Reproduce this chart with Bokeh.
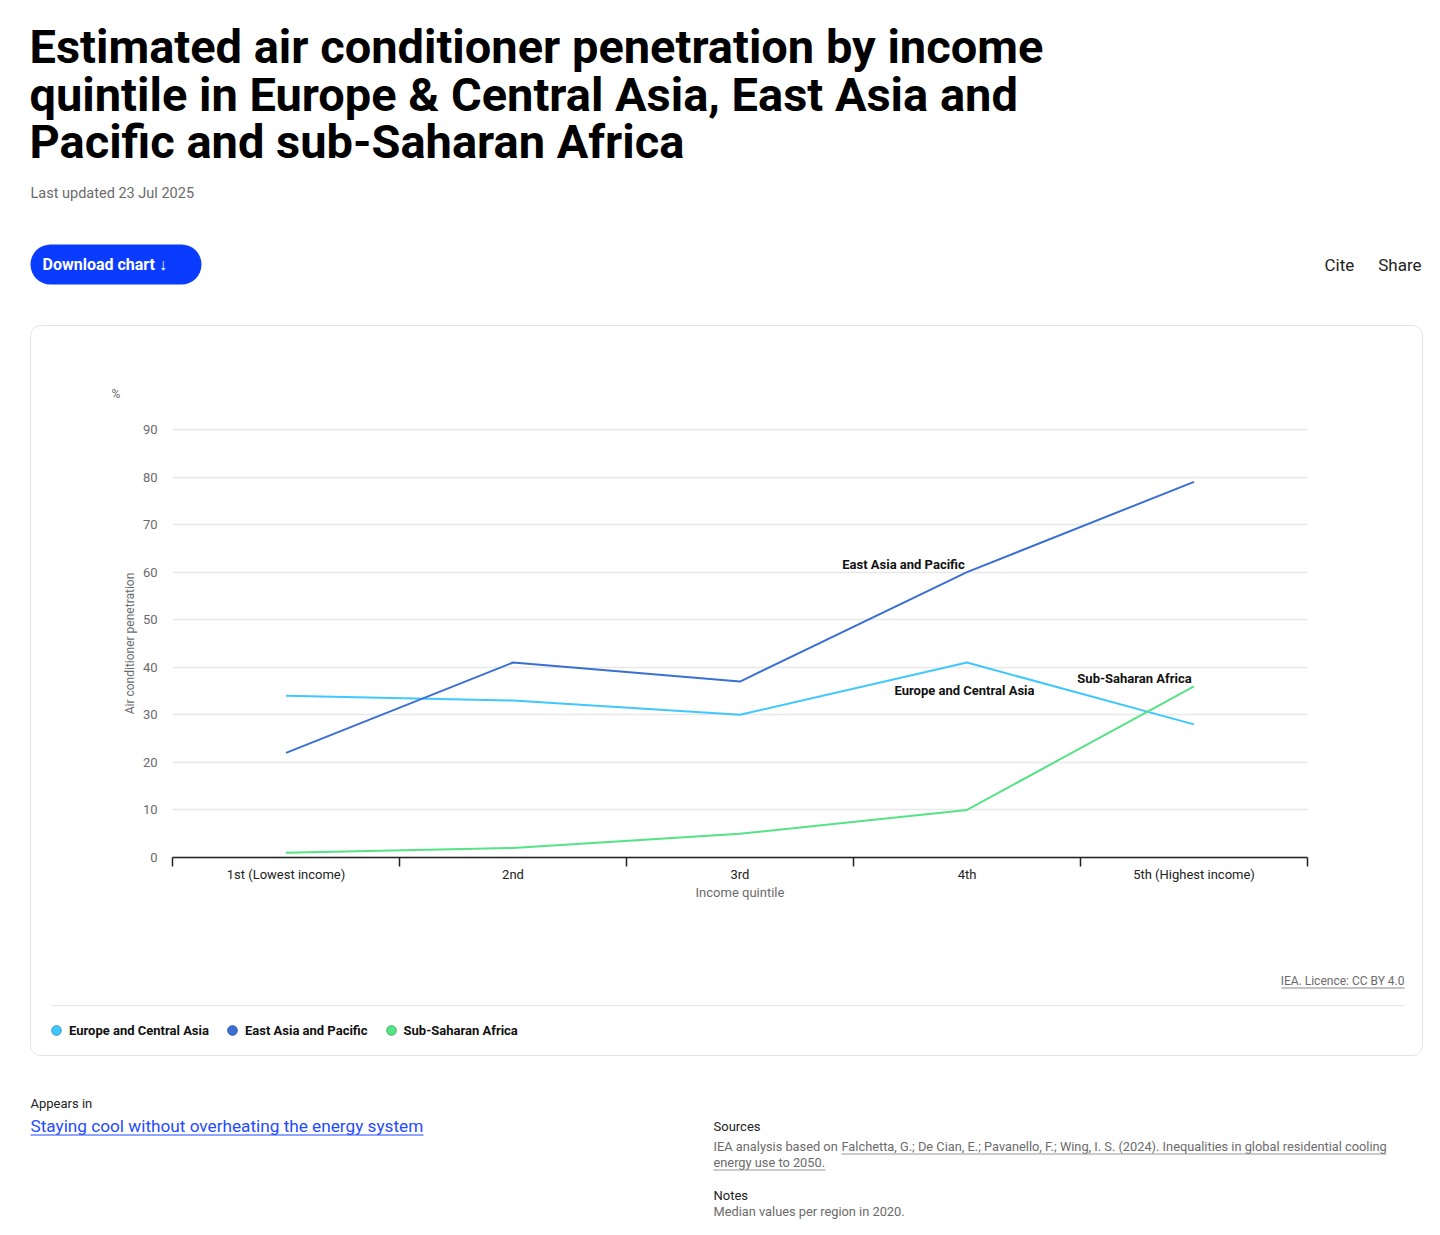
import numpy as np
from bokeh.plotting import figure
from bokeh.models import Range1d, Label, BoxAnnotation, FixedTicker, Legend, LegendItem
from bokeh.embed import file_html
from bokeh.resources import INLINE

# ---------------- data ----------------
quintiles = ["1st (Lowest income)", "2nd", "3rd", "4th", "5th (Highest income)"]
europe_central_asia = [34, 33, 30, 41, 28]
east_asia_pacific = [22, 41, 37, 60, 79]
sub_saharan_africa = [1, 2, 5, 10, 36]
series_names = ["Europe and Central Asia", "East Asia and Pacific", "Sub-Saharan Africa"]
series_values = [europe_central_asia, east_asia_pacific, sub_saharan_africa]
series_colors = ["#3fc8ff", "#3a6fd3", "#55e385"]
legend_edge = ["#2a9cc8", "#2d57a8", "#3fb868"]
y_ticks = [0, 10, 20, 30, 40, 50, 60, 70, 80, 90]

title_lines = ["Estimated air conditioner penetration by income",
               "quintile in Europe & Central Asia, East Asia and",
               "Pacific and sub-Saharan Africa"]

FONT = "Roboto"

# ---------------- layout constants (canvas pixels) ----------------
W, H = 1424, 1219
PLOT_L, PLOT_R, PLOT_T, PLOT_B = 172, 1307, 429, 857
Y_MAX = 90
n = len(quintiles)
sx = (PLOT_R - PLOT_L) / n
sy = (PLOT_B - PLOT_T) / Y_MAX

x_pos = [i + 0.5 for i in range(n)]
bounds = [float(i) for i in range(n + 1)]

# frame covers the whole canvas; data ranges chosen so that the plot box sits at PLOT_*
xr = Range1d(-PLOT_L / sx, (W - PLOT_L) / sx)
yr = Range1d(-(H - PLOT_B) / sy, PLOT_B / sy)

p = figure(frame_width=W, frame_height=H, x_range=xr, y_range=yr,
           min_border=0, output_backend="svg", toolbar_location=None)
p.outline_line_color = None
p.background_fill_color = "white"
p.border_fill_color = "white"

# pixel coordinate system for page furniture
p.extra_x_ranges = {"px": Range1d(0, W)}
p.extra_y_ranges = {"px": Range1d(H, 0)}

# ---------------- axes ----------------
xa = p.xaxis[0]
xa.fixed_location = 0
xa.bounds = (0, n)
xa.ticker = FixedTicker(ticks=x_pos, minor_ticks=bounds)
xa.major_label_overrides = {x: q for x, q in zip(x_pos, quintiles)}
xa.major_tick_out = 0
xa.major_tick_in = 0
xa.minor_tick_out = 9
xa.minor_tick_in = 0
xa.minor_tick_line_color = "#222222"
xa.minor_tick_line_width = 1.5
xa.axis_line_color = "#222222"
xa.axis_line_width = 1.5
xa.major_label_standoff = 0
xa.major_label_text_font = FONT
xa.major_label_text_font_size = "13px"
xa.major_label_text_color = "#222222"
xa.axis_label = "Income quintile"
xa.axis_label_text_font = FONT
xa.axis_label_text_font_size = "13px"
xa.axis_label_text_font_style = "normal"
xa.axis_label_text_color = "#6b6b6b"
xa.axis_label_standoff = 0

ya = p.yaxis[0]
ya.fixed_location = 0
ya.bounds = (0, Y_MAX)
ya.ticker = FixedTicker(ticks=y_ticks)
ya.axis_line_color = None
ya.major_tick_line_color = None
ya.major_tick_out = 0
ya.major_tick_in = 0
ya.minor_tick_line_color = None
ya.major_label_standoff = 15
ya.major_label_text_font = FONT
ya.major_label_text_font_size = "13px"
ya.major_label_text_color = "#6b6b6b"
ya.axis_label = "Air conditioner penetration"
ya.axis_label_text_font = FONT
ya.axis_label_text_font_size = "12px"
ya.axis_label_text_font_style = "normal"
ya.axis_label_text_color = "#6b6b6b"
ya.axis_label_standoff = 3

p.xgrid.visible = False
p.ygrid.ticker = FixedTicker(ticks=y_ticks)
p.ygrid.cross_bounds = (0, n)
p.ygrid.grid_line_color = "#e8e8e8"
p.ygrid.grid_line_width = 1.5

# ---------------- series ----------------
for vals, c in zip(series_values, series_colors):
    p.line(x_pos, vals, line_color=c, line_width=2)

# legend proxies
items = []
for name, c, e in zip(series_names, series_colors, legend_edge):
    r = p.scatter(x=[np.nan], y=[np.nan], marker="circle", size=9,
                  fill_color=c, line_color=e, line_width=1)
    items.append(LegendItem(label=name, renderers=[r]))
legend = Legend(items=items, orientation="horizontal", location=(44, H - 1042),
                glyph_width=24, glyph_height=24, label_standoff=1, spacing=11,
                padding=0, margin=0, border_line_color=None,
                background_fill_alpha=0,
                label_text_font=FONT, label_text_font_size="13px",
                label_text_font_style="bold", label_text_color="#111111")
p.add_layout(legend, "center")


def lab(x, y, text, size, color="#222222", bold=False, align="left",
        baseline="middle", font=FONT):
    p.add_layout(Label(x=x, y=y, text=text, x_range_name="px", y_range_name="px",
                       text_font=font, text_font_size=f"{size}px",
                       text_font_style="bold" if bold else "normal",
                       text_color=color, text_align=align, text_baseline=baseline))


def box(l, r, t, b, fill=None, line=None, radius=0, lw=1):
    p.add_layout(BoxAnnotation(left=l, right=r, top=t, bottom=b,
                               x_range_name="px", y_range_name="px",
                               fill_color=fill if fill else "white",
                               fill_alpha=1 if fill else 0,
                               line_color=line if line else "white", line_width=lw,
                               line_alpha=1 if line else 0,
                               border_radius=radius))


# ---------------- header ----------------
for i, t in enumerate(title_lines):
    lab(29, 46 + 47.5 * i, t, 47, "#000000", bold=True)
lab(30, 193, "Last updated 23 Jul 2025", 14.5, "#6b6b6b")
box(30, 201, 244, 284, fill="#0a3cff", radius=20)
lab(42, 264, "Download chart \u2193", 16, "#ffffff", bold=True)
lab(1324, 264, "Cite", 17, "#222222")
lab(1421, 264, "Share", 17, "#222222", align="right")

# ---------------- card ----------------
box(30, 1422, 325, 1055, line="#e4e4e4", radius=10)
lab(111, 393, "%", 12, "#6b6b6b")

# in-chart series labels
lab(903, 564, "East Asia and Pacific", 13, "#111111", bold=True, align="center")
lab(964, 690, "Europe and Central Asia", 13, "#111111", bold=True, align="center")
lab(1134, 678, "Sub-Saharan Africa", 13, "#111111", bold=True, align="center")

lab(1404, 980, "IEA. Licence: CC BY 4.0", 12, "#6b6b6b", align="right")
box(1281, 1404, 987, 988, fill="#8a8a8a")
box(51, 1404, 1004.5, 1005.5, fill="#e6e6e6")

# ---------------- footer ----------------
lab(30, 1103, "Appears in", 13, "#222222")
lab(30, 1125, "Staying cool without overheating the energy system", 17.2, "#1f4cff")
box(30, 423, 1134, 1135, fill="#1f4cff")

lab(713, 1126, "Sources", 13, "#222222")
lab(713, 1146, "IEA analysis based on", 12.8, "#6b6b6b")
lab(841, 1146, "Falchetta, G.; De Cian, E.; Pavanello, F.; Wing, I. S. (2024). Inequalities in global residential cooling",
    12.8, "#6b6b6b")
box(841, 1386, 1153, 1154, fill="#9a9a9a")
lab(713, 1162, "energy use to 2050.", 12.8, "#6b6b6b")
box(713, 825, 1169, 1170, fill="#9a9a9a")
lab(713, 1195, "Notes", 13, "#222222")
lab(713, 1211, "Median values per region in 2020.", 12.8, "#6b6b6b")

open("out.html", "w").write(file_html(p, INLINE))
